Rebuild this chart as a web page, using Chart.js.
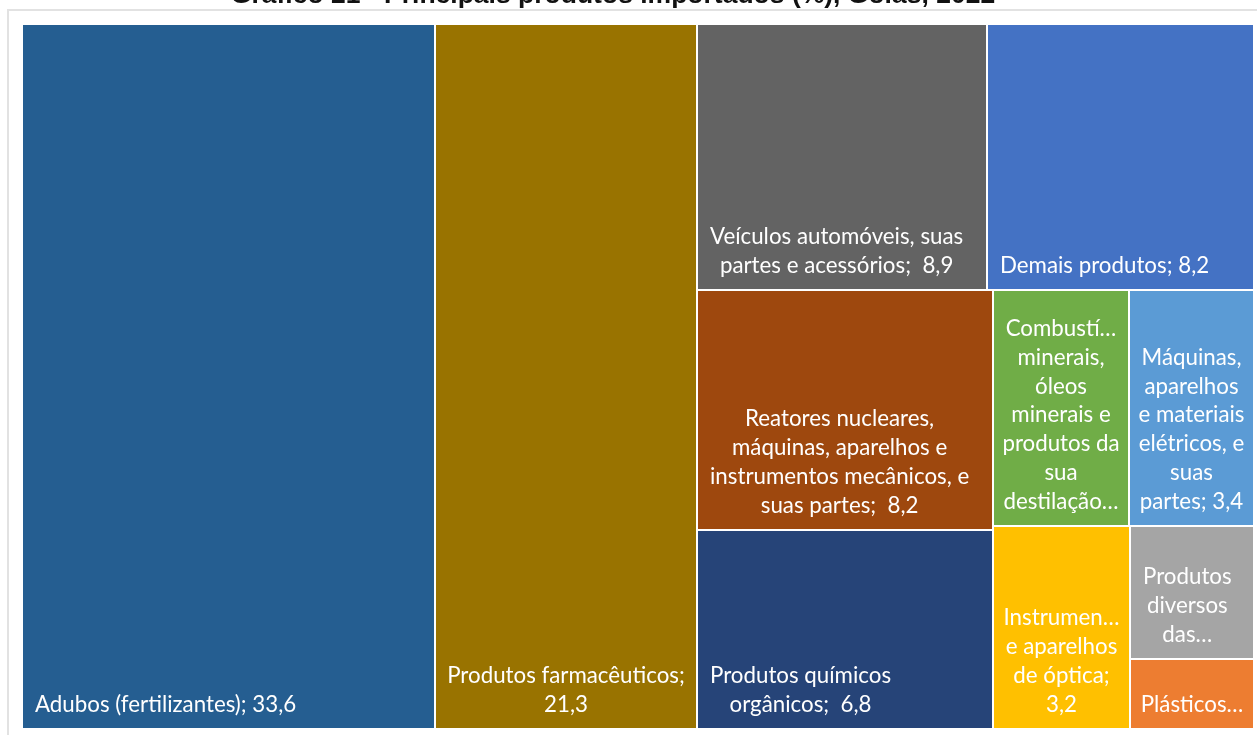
<!DOCTYPE html>
<html lang="pt-BR">
<head>
<meta charset="utf-8">
<title>Gráfico 21 - Principais produtos importados (%), Goiás, 2022</title>
<script src="https://cdn.jsdelivr.net/npm/chart.js@4.4.1/dist/chart.umd.min.js"></script>
<style>
    html, body { margin: 0; padding: 0; background: #fff; overflow: hidden; }
    #moldura {
        position: absolute; left: 7px; top: 9px; width: 1300px; height: 800px;
        border-left: 2px solid #e2e2e2; border-top: 2px solid #e2e2e2;
    }
    #area { position: absolute; left: 0; top: 0; width: 1257px; height: 735px; }
</style>
</head>
<body>
<div id="moldura"></div>
<div id="area"><canvas id="treemap"></canvas></div>
<script>
// --- DADOS (em %, importações de Goiás, 2022) ---
const titulo = 'Gráfico 21 - Principais produtos importados (%), Goiás, 2022';

// espaço no fim do nome = rótulo com espaço duplo antes do valor (como no original)
const categorias = [
    'Adubos (fertilizantes)',
    'Produtos farmacêuticos',
    'Veículos automóveis, suas partes e acessórios ',
    'Demais produtos',
    'Reatores nucleares, máquinas, aparelhos e instrumentos mecânicos, e suas partes ',
    'Produtos químicos orgânicos ',
    'Combustíveis minerais, óleos minerais e produtos da sua destilação; matérias betuminosas; ceras minerais',
    'Máquinas, aparelhos e materiais elétricos, e suas partes',
    'Instrumentos e aparelhos de óptica',
    'Produtos diversos das indústrias químicas',
    'Plásticos e suas obras'
];
const valores = [33.6, 21.3, 8.9, 8.2, 8.2, 6.8, 3.7, 3.4, 3.2, 1.9, 1.0];

// cores do tema Office, na mesma ordem das categorias
const cores = [
    '#255E91', '#997300', '#636363', '#4472C4', '#9E480E', '#264478',
    '#70AD47', '#5B9BD5', '#FFC000', '#A5A5A5', '#ED7D31'
];

// --- LAYOUT EM FAIXAS (quantos itens por faixa e sentido) ---
// 'v' = faixa vertical à esquerda da área restante, 'h' = faixa horizontal no topo
const faixas = [[1, 'v'], [1, 'v'], [2, 'h'], [2, 'v'], [2, 'h'], [1, 'v'], [2, 'v']];

function montarRetangulos(vals) {
    const rets = [];
    let area = { x: 0, y: 0, w: 100, h: 100 };
    let restante = vals.reduce((a, b) => a + b, 0);
    let i = 0;
    faixas.forEach(([n, sentido]) => {
        const grupo = vals.slice(i, i + n);
        const soma = grupo.reduce((a, b) => a + b, 0);
        if (sentido === 'v') {
            const w = area.w * soma / restante;
            let y = area.y;
            grupo.forEach(v => {
                const h = area.h * v / soma;
                rets.push({ x: area.x, y: y, w: w, h: h });
                y += h;
            });
            area = { x: area.x + w, y: area.y, w: area.w - w, h: area.h };
        } else {
            const h = area.h * soma / restante;
            let x = area.x;
            grupo.forEach(v => {
                const w = area.w * v / soma;
                rets.push({ x: x, y: area.y, w: w, h: h });
                x += w;
            });
            area = { x: area.x, y: area.y + h, w: area.w, h: area.h - h };
        }
        restante -= soma;
        i += n;
    });
    return rets;
}

const retangulos = montarRetangulos(valores);
const fmt = v => v.toLocaleString('pt-BR', { minimumFractionDigits: 1, maximumFractionDigits: 1 });

// --- QUEBRA DE TEXTO ESTILO EXCEL ---
const FONTE = '22.3px Lato, "Noto Sans", sans-serif';
const ALTURA_LINHA = 28.8;
const PAD_QUEBRA = 8, PAD_X = 13, PAD_Y = 10;

function encurtar(ctx, txt, maxW) {
    if (ctx.measureText(txt).width <= maxW) return txt;
    while (txt.length > 1 && ctx.measureText(txt + '…').width > maxW) txt = txt.slice(0, -1);
    return txt + '…';
}

function quebrar(ctx, texto, maxW, maxLinhas) {
    const palavras = texto.split(' ');
    const linhas = [];
    let atual = null;
    palavras.forEach(p => {
        if (atual === null) { atual = p; return; }
        const teste = atual + ' ' + p;
        if (ctx.measureText(teste).width <= maxW) atual = teste;
        else { linhas.push(atual); atual = p; }
    });
    if (atual !== null) linhas.push(atual);
    let saida = linhas.map(l => encurtar(ctx, l, maxW));
    if (saida.length > maxLinhas) {
        saida = saida.slice(0, Math.max(1, maxLinhas));
        let ult = linhas[saida.length - 1];
        while (ult.length > 1 && ctx.measureText(ult + '…').width > maxW) ult = ult.slice(0, -1);
        saida[saida.length - 1] = ult.replace(/\s+$/, '') + '…';
    }
    return saida;
}

function rotuloDe(k) {
    const nome = categorias[k];
    const extra = nome.endsWith(' ') ? ' ' : '';
    return nome.trimEnd() + '; ' + extra + fmt(valores[k]);
}

const pluginTreemap = {
    id: 'treemapCelulas',
    afterDatasetsDraw(chart) {
        const { ctx, scales: { x, y } } = chart;
        ctx.save();
        retangulos.forEach((r, k) => {
            const x1 = Math.round(x.getPixelForValue(r.x));
            const x2 = Math.round(x.getPixelForValue(r.x + r.w));
            const y1 = Math.round(y.getPixelForValue(r.y));
            const y2 = Math.round(y.getPixelForValue(r.y + r.h));
            const w = x2 - x1, h = y2 - y1;
            ctx.fillStyle = cores[k];
            ctx.fillRect(x1 + 1, y1 + 1, w - 2, h - 2);

            // rótulo: bloco ancorado embaixo à esquerda, linhas centralizadas no bloco
            ctx.font = FONTE;
            const maxW = w - 2 * PAD_QUEBRA;
            const maxLinhas = Math.floor((h - 2 * PAD_Y) / ALTURA_LINHA);
            const linhas = quebrar(ctx, rotuloDe(k), maxW, maxLinhas);
            const larguras = linhas.map(l => ctx.measureText(l).width);
            const bloco = Math.max(...larguras);
            const esq = x1 + Math.min(PAD_X, (w - bloco) / 2);
            ctx.fillStyle = '#ffffff';
            ctx.textBaseline = 'middle';
            ctx.textAlign = 'left';
            linhas.forEach((l, j) => {
                const cy = y2 - PAD_Y - ALTURA_LINHA / 2 - (linhas.length - 1 - j) * ALTURA_LINHA;
                ctx.fillText(l, esq + (bloco - larguras[j]) / 2, cy);
            });
        });

        // título (cortado no topo, como no original)
        ctx.font = 'bold 26.5px "Liberation Sans", Arial, sans-serif';
        ctx.fillStyle = '#111111';
        ctx.textAlign = 'center';
        ctx.textBaseline = 'alphabetic';
        ctx.fillText(titulo, 613, 3);
        ctx.restore();
    }
};

new Chart(document.getElementById('treemap'), {
    type: 'scatter',
    data: {
        datasets: [{
            label: 'Importações (%)',
            data: retangulos.map(r => ({ x: r.x + r.w / 2, y: r.y + r.h / 2 })),
            pointRadius: 0,
            pointHitRadius: 0
        }]
    },
    options: {
        responsive: true,
        maintainAspectRatio: false,
        animation: false,
        layout: { padding: { left: 22, top: 24, right: 3, bottom: 6 } },
        scales: {
            x: { type: 'linear', min: 0, max: 100, display: false },
            y: { type: 'linear', min: 0, max: 100, reverse: true, display: false }
        },
        plugins: {
            legend: { display: false },
            title: { display: false },
            tooltip: { enabled: false }
        }
    },
    plugins: [pluginTreemap]
});
</script>
</body>
</html>
